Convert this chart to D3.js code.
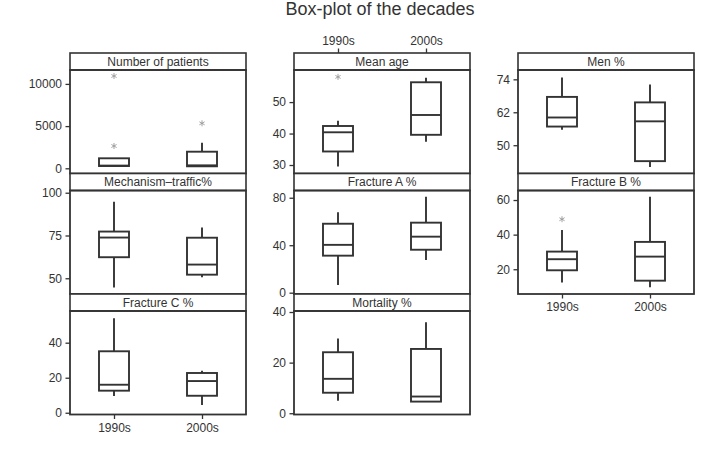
<!DOCTYPE html>
<html>
<head>
<meta charset="utf-8">
<script src="https://cdn.jsdelivr.net/npm/d3@7"></script>
<style>
  body { margin: 0; background: #fff; }
  text { font-family: "Liberation Sans", Arial, sans-serif; fill: #333; }
</style>
</head>
<body>
<div id="chartBox"></div>
<script>
(function () {
  'use strict';

  // ---- data ----
  var decades = ["1990s", "2000s"];
  var panelNames = ["Number of patients", "Mechanism\u2013traffic%", "Fracture C %",
                    "Mean age", "Fracture A %", "Mortality %",
                    "Men %", "Fracture B %"];
  // [lower whisker, q1, median, q3, upper whisker]
  var stats1990s = [
    [190, 272, 320, 1185, 1185],
    [44.6, 62.3, 73.8, 77.3, 94.7],
    [9.5, 12.6, 16.0, 35.1, 53.9],
    [29.5, 34.3, 40.4, 42.4, 44.1],
    [6.5, 31.2, 40.3, 58.1, 67.7],
    [4.9, 8.1, 13.6, 24.1, 29.5],
    [55.6, 56.8, 60.1, 67.6, 74.7],
    [12.3, 19.4, 25.8, 30.2, 42.7]
  ];
  var stats2000s = [
    [237, 237, 350, 1967, 3033],
    [50.6, 52.1, 58.0, 73.7, 79.7],
    [4.4, 9.7, 18.1, 22.7, 24.0],
    [37.4, 39.6, 45.9, 56.3, 57.7],
    [27.5, 36.2, 47.2, 59.0, 80.8],
    [4.6, 4.6, 6.6, 25.4, 36.0],
    [42.1, 44.2, 58.7, 65.6, 72.1],
    [9.6, 13.4, 27.3, 35.8, 61.9]
  ];
  var outliers1990s = [[10936, 2642], [], [], [58.0], [], [], [], [48.9]];
  var outliers2000s = [[5332], [], [], [], [], [], [], []];
  var yTicks = [
    [0, 5000, 10000], [50, 75, 100], [0, 20, 40],
    [30, 40, 50], [0, 40, 80], [0, 20, 40],
    [50, 62, 74], [20, 40, 60]
  ];
  var yLimits = [
    [-616, 11647], [40.8, 101.3], [-1.0, 58.1],
    [27.3, 60.2], [-1.1, 86.1], [-0.5, 40.4],
    [39.7, 77.4], [5.7, 65.5]
  ];

  // ---- layout ----
  var outerWidth = 711, outerHeight = 449;
  var colX = [70, 294, 518],
      rowY = [53, 173.5, 294],
      panelW = 176,
      panelH = 120.5,
      stripH = 17,
      boxW = 30,
      ink = "#333";

  var panelCol = [0, 0, 0, 1, 1, 1, 2, 2],
      panelRow = [0, 1, 2, 0, 1, 2, 0, 1];

  var svg = d3.select("#chartBox").append("svg")
    .attr("width", outerWidth)
    .attr("height", outerHeight);

  svg.append("text")
    .attr("x", 380)
    .attr("y", 14.5)
    .attr("text-anchor", "middle")
    .style("font-size", "18px")
    .attr("fill", "#3a3a3a")
    .text("Box-plot of the decades");

  var x = d3.scalePoint().domain(decades).range([0, panelW]).padding(0.5);

  panelNames.forEach(function (name, i) {
    var g = svg.append("g")
      .attr("transform", "translate(" + colX[panelCol[i]] + "," + rowY[panelRow[i]] + ")");

    var y = d3.scaleLinear().domain(yLimits[i]).range([panelH, stripH]);

    // strip
    g.append("rect")
      .attr("width", panelW).attr("height", stripH)
      .attr("fill", "#fff").attr("stroke", ink).attr("stroke-width", 1.6);
    g.append("text")
      .attr("x", panelW / 2).attr("y", stripH / 2 + 4.3)
      .attr("text-anchor", "middle")
      .style("font-size", "12px")
      .text(name);

    // boxes
    [stats1990s[i], stats2000s[i]].forEach(function (s, k) {
      var cx = x(decades[k]);
      var b = g.append("g").attr("stroke", ink).attr("stroke-width", 1.9).attr("fill", "none");
      b.append("line").attr("x1", cx).attr("x2", cx).attr("y1", y(s[0])).attr("y2", y(s[1]));
      b.append("line").attr("x1", cx).attr("x2", cx).attr("y1", y(s[3])).attr("y2", y(s[4]));
      b.append("rect")
        .attr("x", cx - boxW / 2).attr("width", boxW)
        .attr("y", y(s[3])).attr("height", y(s[1]) - y(s[3]));
      b.append("line").attr("x1", cx - boxW / 2).attr("x2", cx + boxW / 2)
        .attr("y1", y(s[2])).attr("y2", y(s[2]));
    });

    // outliers drawn as asterisks
    [outliers1990s[i], outliers2000s[i]].forEach(function (o, k) {
      g.selectAll(null).data(o).enter().append("path")
        .attr("transform", function (d) { return "translate(" + x(decades[k]) + "," + y(d) + ")"; })
        .attr("d", "M0,-3V3M-2.6,-1.5L2.6,1.5M-2.6,1.5L2.6,-1.5")
        .attr("stroke", "#999").attr("stroke-width", 0.9);
    });

    // panel border
    g.append("rect")
      .attr("y", stripH).attr("width", panelW).attr("height", panelH - stripH)
      .attr("fill", "none").attr("stroke", ink).attr("stroke-width", 1.8);

    // y axis
    var yAxis = d3.axisLeft(y).tickValues(yTicks[i]).tickFormat(d3.format("d"))
      .tickSize(4.5).tickPadding(3.5);
    var ya = g.append("g").call(yAxis);
    ya.select(".domain").remove();
    ya.selectAll(".tick line").attr("stroke", ink).attr("stroke-width", 1.3);
    ya.selectAll(".tick text").style("font-size", "12px").attr("fill", ink)
      .style("font-family", "Liberation Sans, Arial, sans-serif");
  });

  // x axes: col 0 bottom, col 1 top, col 2 bottom
  function xAxisAt(cx, cy, top) {
    var ax = (top ? d3.axisTop(x) : d3.axisBottom(x)).tickSize(4.5).tickPadding(4);
    var a = svg.append("g").attr("transform", "translate(" + cx + "," + cy + ")").call(ax);
    a.select(".domain").remove();
    a.selectAll(".tick line").attr("stroke", ink).attr("stroke-width", 1.3);
    a.selectAll(".tick text").style("font-size", "12px").attr("fill", ink)
      .style("font-family", "Liberation Sans, Arial, sans-serif");
  }
  xAxisAt(colX[0], rowY[2] + panelH, false);
  xAxisAt(colX[1], rowY[0], true);
  xAxisAt(colX[2], rowY[1] + panelH, false);
})();
</script>
</body>
</html>
